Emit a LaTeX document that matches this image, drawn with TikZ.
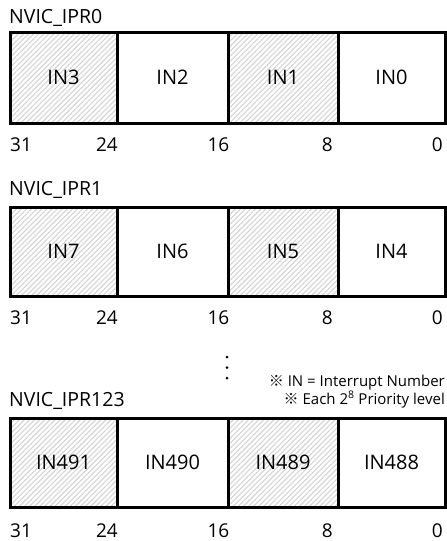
\documentclass[tikz,border=0pt]{standalone}
\usepackage{fontspec}
\setmainfont{Open Sans}
\newfontfamily\cjk{Noto Sans CJK KR}
\usetikzlibrary{patterns.meta}

\tikzset{
  cell/.style={draw=black, line width=3pt, minimum height=#1, inner sep=0pt,
    font=\fontsize{20}{24}\selectfont},
  hatched/.style={pattern={Lines[angle=45,distance=3.6pt,line width=1.1pt]},
    pattern color=black!17},
  regname/.style={anchor=west, inner sep=0pt, font=\fontsize{19.5}{23}\selectfont},
  bitno/.style={inner sep=0pt, font=\fontsize{19}{22}\selectfont},
  note/.style={anchor=east, inner sep=0pt, font=\fontsize{15}{18}\selectfont},
  dot/.style={circle, fill=black, inner sep=0pt, minimum size=3pt},
}

% One 32-bit priority register: #1 name prefix, #2 top, #3 bottom,
% #4..#7 the four field labels (bits 31-24 down to 7-0), #8 bit-number row
\newcommand\prioreg[8]{%
  \pgfmathsetmacro\regh{#3-#2}%
  \pgfmathsetmacro\regm{(#2+#3)/2}%
  \node[cell=\regh pt, hatched, minimum width=107pt] (#1a) at (63.5,\regm) {#4};
  \node[cell=\regh pt, minimum width=111pt] (#1b) at (172.5,\regm) {#5};
  \node[cell=\regh pt, hatched, minimum width=110pt] (#1c) at (283,\regm) {#6};
  \node[cell=\regh pt, minimum width=107pt] (#1d) at (391.5,\regm) {#7};
  \node[bitno, anchor=west] (#1n31) at (10,#8) {31};
  \node[bitno, anchor=east] (#1n24) at (118,#8) {24};
  \node[bitno, anchor=east] (#1n16) at (229.5,#8) {16};
  \node[bitno, anchor=east] (#1n8)  at (333,#8) {8};
  \node[bitno, anchor=east] (#1n0)  at (443,#8) {0};
}

\begin{document}
\begin{tikzpicture}[x=1pt, y=-1pt]
  \useasboundingbox (0,0) rectangle (447,541);

  \node[regname] (t0) at (9,18) {NVIC\_IPR0};
  \prioreg{r0}{32}{123}{IN3}{IN2}{IN1}{IN0}{145}

  \node[regname] (t1) at (9,190) {NVIC\_IPR1};
  \prioreg{r1}{207}{296}{IN7}{IN6}{IN5}{IN4}{318}

  % vertical ellipsis between the registers
  \node[dot] (d1) at (227,357) {};
  \node[dot] (d2) at (227,367.5) {};
  \node[dot] (d3) at (227,378) {};

  \node[note] (n1) at (445,383) {{\cjk ※} IN = Interrupt Number};
  \node[note] (n2) at (445,399.5) {{\cjk ※} Each 2\textsuperscript{8} Priority level};

  \node[regname] (t2) at (9,401) {NVIC\_IPR123};
  \prioreg{r2}{418}{507}{IN491}{IN490}{IN489}{IN488}{531}
\end{tikzpicture}
\end{document}
